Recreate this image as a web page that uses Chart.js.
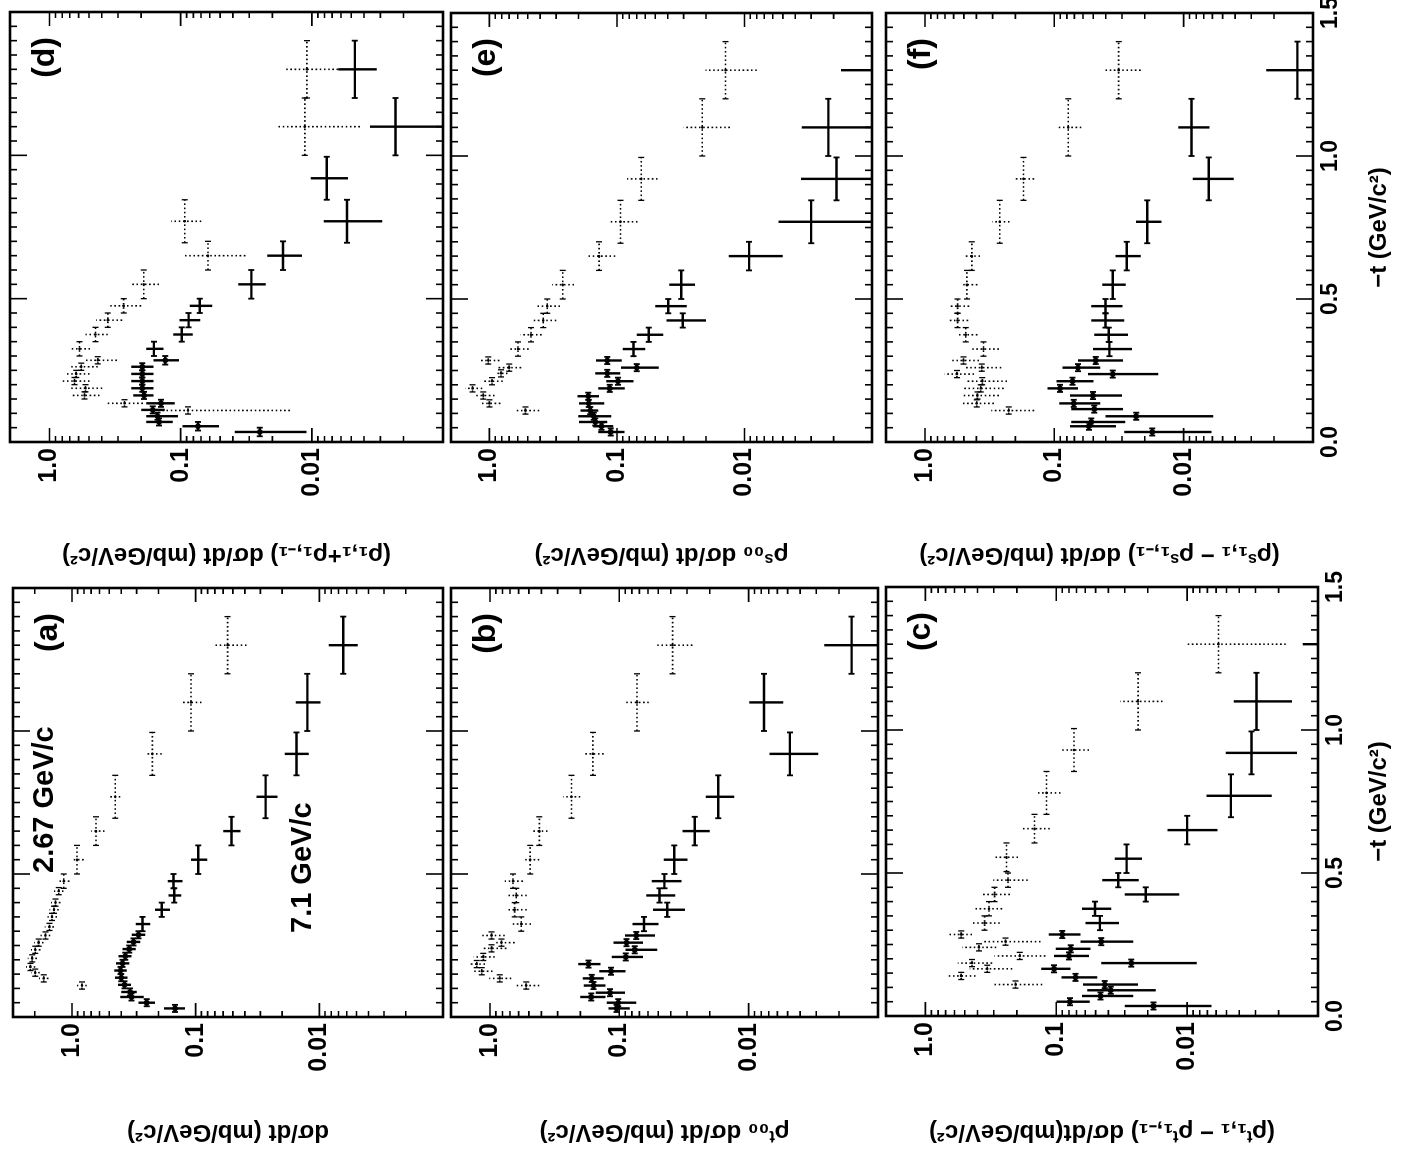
<!DOCTYPE html>
<html>
<head>
<meta charset="utf-8">
<script src="https://cdn.jsdelivr.net/npm/chart.js@4.4.0/dist/chart.umd.min.js"></script>
<style>
  html, body { margin: 0; padding: 0; background: #fff; overflow: hidden; }
  /* the scanned figure is printed sideways: build it upright, then turn the page */
  #page { position: absolute; left: 0; top: 0; width: 1158px; height: 1401px;
          transform-origin: 0 0; transform: translate(0px, 1158px) rotate(-90deg); background: #fff; }
  #page canvas { position: absolute; }
</style>
</head>
<body>
<div id="page"></div>
<script>
// each point: [-t, half bin width, value, lower error, upper error]
// dotted = 2.67 GeV/c, solid = 7.1 GeV/c
const a267 = [[1.30,0.10,0.0552,0.0388,0.0720],[1.10,0.10,0.109,0.0897,0.130],[0.92,0.075,0.224,0.188,0.256],
  [0.77,0.075,0.447,0.407,0.50],[0.65,0.05,0.640,0.545,0.698],[0.55,0.05,0.911,0.805,1.0],[0.475,0.025,1.167,1.05,1.28],
  [0.44,0.0125,1.28,1.17,1.40],[0.40,0.0125,1.36,1.24,1.48],[0.375,0.0125,1.40,1.28,1.52],[0.35,0.0125,1.45,1.32,1.58],
  [0.315,0.0125,1.52,1.40,1.66],[0.285,0.0125,1.64,1.50,1.80],[0.26,0.0125,1.86,1.70,2.02],[0.235,0.0125,1.98,1.80,2.15],
  [0.205,0.0125,2.10,1.92,2.28],[0.175,0.0125,2.17,1.98,2.35],[0.155,0.0125,1.98,1.82,2.15],[0.135,0.0125,1.69,1.55,1.85],
  [0.11,0.0125,0.83,0.76,0.91]];
const a71 = [[1.30,0.10,0.0064,0.0049,0.0084],[1.10,0.10,0.0125,0.0098,0.0155],[0.92,0.075,0.0153,0.0122,0.0190],
  [0.77,0.075,0.0272,0.0218,0.0322],[0.65,0.05,0.0513,0.0434,0.0599],[0.55,0.05,0.0952,0.0805,0.109],
  [0.475,0.025,0.151,0.128,0.168],[0.425,0.025,0.149,0.131,0.166],[0.375,0.025,0.188,0.161,0.213],[0.325,0.025,0.269,0.233,0.305],
  [0.2875,0.0125,0.29,0.256,0.328],[0.2625,0.0125,0.318,0.28,0.36],[0.2375,0.0125,0.345,0.305,0.39],[0.2125,0.0125,0.371,0.33,0.42],
  [0.1875,0.0125,0.39,0.345,0.44],[0.1625,0.0125,0.405,0.36,0.455],[0.1375,0.0125,0.40,0.355,0.45],[0.1125,0.0125,0.376,0.333,0.425],
  [0.0875,0.0125,0.34,0.30,0.40],[0.07,0.0125,0.33,0.263,0.407],[0.05,0.0125,0.249,0.213,0.290],[0.03,0.0125,0.147,0.122,0.180]];

const b267 = [[1.30,0.10,0.0387,0.0272,0.0508],[1.10,0.10,0.0729,0.0591,0.0895],[0.92,0.075,0.160,0.132,0.188],
  [0.77,0.075,0.234,0.200,0.272],[0.65,0.05,0.415,0.359,0.472],[0.55,0.05,0.489,0.415,0.556],[0.475,0.025,0.664,0.556,0.768],
  [0.425,0.025,0.626,0.519,0.746],[0.375,0.025,0.644,0.519,0.725],[0.325,0.025,0.573,0.481,0.683],[0.285,0.0125,0.971,0.768,1.158],
  [0.26,0.0125,0.815,0.644,0.916],[0.24,0.0125,0.971,0.746,1.158],[0.21,0.0125,1.124,0.916,1.34],[0.185,0.0125,1.264,1.092,1.464],
  [0.16,0.0125,1.158,0.954,1.34],[0.135,0.0125,0.839,0.683,1.012],[0.11,0.0125,0.525,0.415,0.644]];
const b71 = [[1.30,0.10,0.0016,0.0008,0.0026],[1.10,0.10,0.0076,0.0054,0.0099],[0.92,0.075,0.0048,0.0029,0.0069],
  [0.77,0.075,0.0172,0.0129,0.0215],[0.65,0.05,0.0261,0.020,0.0325],[0.55,0.05,0.0376,0.0297,0.0453],[0.475,0.025,0.0448,0.033,0.056],
  [0.425,0.025,0.0489,0.0369,0.0619],[0.375,0.025,0.0426,0.0311,0.055],[0.325,0.025,0.0645,0.0498,0.0791],
  [0.285,0.0125,0.0739,0.0529,0.0905],[0.26,0.0125,0.088,0.0656,0.111],[0.235,0.0125,0.0761,0.0508,0.0895],
  [0.21,0.0125,0.089,0.0656,0.1144],[0.185,0.0125,0.173,0.140,0.208],[0.16,0.0125,0.116,0.0895,0.143],
  [0.135,0.0125,0.163,0.132,0.192],[0.11,0.0125,0.158,0.128,0.188],[0.085,0.0125,0.118,0.0905,0.152],
  [0.07,0.0125,0.165,0.128,0.200],[0.05,0.0125,0.102,0.0739,0.125],[0.03,0.0125,0.105,0.083,0.1214]];

const c267 = [[1.30,0.10,0.00576,0.00176,0.010],[1.10,0.10,0.0237,0.0154,0.0326],[0.93,0.075,0.0732,0.0562,0.0938],
  [0.78,0.075,0.1186,0.0928,0.144],[0.655,0.05,0.1465,0.112,0.185],[0.555,0.05,0.240,0.196,0.296],[0.475,0.025,0.234,0.165,0.303],
  [0.425,0.025,0.296,0.226,0.375],[0.375,0.025,0.327,0.259,0.414],[0.325,0.025,0.353,0.270,0.447],[0.285,0.0125,0.533,0.44,0.675],
  [0.26,0.0125,0.244,0.132,0.362],[0.24,0.0125,0.39,0.287,0.524],[0.21,0.0125,0.19,0.121,0.296],[0.185,0.0125,0.44,0.309,0.566],
  [0.165,0.0125,0.337,0.217,0.458],[0.14,0.0125,0.533,0.414,0.663],[0.11,0.0125,0.205,0.128,0.303]];
const c71 = [[1.30,0.10,0.0007,0.0003,0.00131],[1.10,0.10,0.00295,0.00158,0.0044],[0.92,0.075,0.00322,0.00145,0.00506],
  [0.77,0.075,0.00463,0.00226,0.0071],[0.65,0.05,0.010,0.00586,0.0141],[0.55,0.05,0.029,0.0221,0.0358],
  [0.475,0.025,0.0336,0.0234,0.0446],[0.425,0.025,0.0207,0.0115,0.030],[0.375,0.025,0.0506,0.038,0.0635],
  [0.325,0.025,0.0464,0.0332,0.0597],[0.285,0.0125,0.090,0.0653,0.114],[0.26,0.0125,0.0454,0.0258,0.0653],
  [0.235,0.0125,0.0776,0.0548,0.101],[0.21,0.0125,0.080,0.0562,0.104],[0.185,0.0125,0.0267,0.00844,0.0454],
  [0.165,0.0125,0.104,0.078,0.130],[0.135,0.0125,0.0712,0.0487,0.0911],[0.11,0.0125,0.0426,0.0237,0.0624],
  [0.09,0.0125,0.0384,0.0174,0.058],[0.07,0.0125,0.0459,0.0258,0.0635],[0.05,0.0125,0.0787,0.0555,0.0996],
  [0.035,0.0125,0.0181,0.0065,0.030]];

const d267 = [[1.30,0.10,0.0109,0.0063,0.0164],[1.10,0.10,0.0113,0.0043,0.0181],[0.77,0.075,0.093,0.0696,0.118],
  [0.65,0.05,0.0619,0.0321,0.0932],[0.55,0.05,0.191,0.146,0.234],[0.475,0.025,0.272,0.200,0.348],[0.425,0.025,0.359,0.279,0.440],
  [0.375,0.025,0.446,0.359,0.531],[0.325,0.025,0.590,0.490,0.683],[0.285,0.0125,0.428,0.306,0.550],[0.2625,0.0125,0.573,0.428,0.683],
  [0.2375,0.0125,0.626,0.495,0.768],[0.2125,0.0125,0.645,0.495,0.791],[0.1875,0.0125,0.531,0.396,0.683],
  [0.1625,0.0125,0.541,0.415,0.683],[0.135,0.0125,0.268,0.194,0.374],[0.11,0.0125,0.088,0.0147,0.154]];
const d71 = [[1.30,0.10,0.0047,0.0032,0.0063],[1.10,0.10,0.0023,0.0008,0.0036],[0.92,0.075,0.0077,0.0053,0.0102],
  [0.77,0.075,0.0054,0.0029,0.0081],[0.65,0.05,0.0166,0.0119,0.0219],[0.55,0.05,0.0289,0.0225,0.0364],
  [0.475,0.025,0.0716,0.0574,0.0853],[0.425,0.025,0.087,0.071,0.102],[0.375,0.025,0.098,0.081,0.114],
  [0.325,0.025,0.160,0.135,0.183],[0.285,0.015,0.131,0.103,0.161],[0.2625,0.0125,0.196,0.161,0.238],
  [0.2375,0.0125,0.196,0.161,0.238],[0.2125,0.0125,0.196,0.161,0.238],[0.1875,0.0125,0.196,0.161,0.238],
  [0.1625,0.0125,0.19,0.161,0.23],[0.135,0.0125,0.141,0.111,0.183],[0.112,0.0125,0.163,0.132,0.2],
  [0.09,0.0125,0.15,0.105,0.183],[0.07,0.0125,0.146,0.115,0.183],[0.055,0.015,0.0738,0.051,0.097],[0.035,0.015,0.0249,0.011,0.0387]];

const e267 = [[1.30,0.10,0.0141,0.0080,0.0202],[1.10,0.10,0.0214,0.0130,0.030],[0.92,0.075,0.0645,0.048,0.0834],
  [0.77,0.075,0.0938,0.0689,0.116],[0.65,0.05,0.138,0.103,0.175],[0.55,0.05,0.266,0.217,0.321],[0.475,0.025,0.352,0.279,0.425],
  [0.425,0.025,0.378,0.299,0.464],[0.375,0.025,0.472,0.389,0.570],[0.325,0.025,0.597,0.492,0.688],[0.285,0.0125,1.02,0.834,1.206],
  [0.26,0.0125,0.70,0.563,0.849],[0.24,0.0125,0.81,0.72,0.884],[0.2125,0.0125,0.954,0.786,1.137],[0.1875,0.0125,1.356,1.137,1.543],
  [0.1625,0.0125,1.118,0.91,1.294],[0.135,0.0125,1.0,0.82,1.164],[0.11,0.0125,0.522,0.406,0.633]];
const e71 = [[1.30,0.10,0.0007,0.0003,0.00175],[1.10,0.10,0.0022,0.0008,0.00355],[0.92,0.075,0.0019,0.0008,0.0036],
  [0.77,0.075,0.0030,0.0008,0.0054],[0.65,0.05,0.0092,0.0050,0.0133],[0.55,0.05,0.0313,0.0244,0.0389],
  [0.475,0.025,0.0396,0.0283,0.0501],[0.425,0.025,0.0305,0.020,0.0408],[0.375,0.025,0.0563,0.0433,0.070],
  [0.325,0.025,0.0742,0.060,0.090],[0.285,0.0125,0.119,0.0917,0.146],[0.26,0.0125,0.070,0.047,0.0928],
  [0.24,0.0125,0.119,0.094,0.148],[0.2125,0.0125,0.098,0.074,0.121],[0.1875,0.0125,0.114,0.087,0.140],
  [0.16,0.0125,0.168,0.138,0.204],[0.135,0.0125,0.166,0.126,0.198],[0.11,0.0125,0.162,0.14,0.193],
  [0.09,0.0125,0.152,0.111,0.201],[0.07,0.0125,0.148,0.119,0.198],[0.055,0.0125,0.132,0.107,0.153],[0.035,0.0125,0.112,0.0874,0.140]];

const f267 = [[1.30,0.10,0.0318,0.0215,0.0422],[1.10,0.10,0.0781,0.0618,0.0932],[0.92,0.075,0.173,0.143,0.200],
  [0.77,0.075,0.264,0.222,0.302],[0.65,0.05,0.434,0.375,0.491],[0.55,0.05,0.474,0.393,0.527],[0.475,0.025,0.559,0.455,0.647],
  [0.425,0.025,0.559,0.463,0.659],[0.375,0.025,0.483,0.393,0.566],[0.325,0.025,0.353,0.268,0.430],[0.285,0.0125,0.503,0.382,0.636],
  [0.26,0.0125,0.364,0.257,0.491],[0.2375,0.0125,0.566,0.417,0.707],[0.2125,0.0125,0.36,0.232,0.491],[0.1875,0.0125,0.37,0.246,0.497],
  [0.1625,0.0125,0.393,0.268,0.512],[0.135,0.0125,0.398,0.293,0.512],[0.11,0.0125,0.225,0.143,0.307]];
const f71 = [[1.30,0.10,0.00132,0.0008,0.0023],[1.10,0.10,0.0087,0.0063,0.0110],[0.92,0.075,0.0064,0.0041,0.0085],
  [0.77,0.075,0.0191,0.0148,0.0234],[0.65,0.05,0.0275,0.0215,0.0337],[0.55,0.05,0.0353,0.0280,0.0426],
  [0.475,0.025,0.0402,0.0297,0.0518],[0.425,0.025,0.0402,0.0288,0.0518],[0.375,0.025,0.0379,0.0269,0.049],
  [0.325,0.025,0.0375,0.0251,0.0503],[0.285,0.0125,0.0479,0.0294,0.0655],[0.26,0.0125,0.0655,0.0442,0.0863],
  [0.2375,0.0125,0.0353,0.0157,0.055],[0.2125,0.0125,0.0723,0.0497,0.096],[0.1875,0.0125,0.0904,0.0655,0.113],
  [0.1625,0.0125,0.0503,0.030,0.0757],[0.135,0.0125,0.0707,0.0442,0.0916],[0.115,0.0125,0.049,0.0294,0.0740],
  [0.09,0.0125,0.0233,0.0059,0.0402],[0.07,0.0125,0.0518,0.0283,0.074],[0.055,0.0125,0.054,0.0333,0.0757],[0.035,0.0125,0.0175,0.0061,0.0288]];

const tTicks = [0, 0.5, 1.0, 1.5];
const tTickLabels = ['0.0', '0.5', '1.0', '1.5'];
const valueTicks = [1, 0.1, 0.01];
const valueTickLabels = ['1.0', '0.1', '0.01'];

const ink = '#000';
const FONT = "'Liberation Sans', Arial, sans-serif";

// frame with inward ticks on all four sides
const framePlugin = {
  id: 'frame',
  afterDraw(chart) {
    const { ctx, chartArea: ca, scales: { x, y } } = chart;
    ctx.save();
    ctx.strokeStyle = ink;
    ctx.setLineDash([]);
    ctx.lineWidth = 1.6;
    ctx.beginPath();
    for (let i = 0; i <= 30; i++) {
      const px = x.getPixelForValue(i * 0.05);
      const len = i % 10 === 0 ? 17 : 7;
      ctx.moveTo(px, ca.bottom); ctx.lineTo(px, ca.bottom - len);
      ctx.moveTo(px, ca.top); ctx.lineTo(px, ca.top + len);
    }
    [0.001, 0.01, 0.1, 1].forEach(dec => {
      for (let m = 1; m <= 9; m++) {
        const v = dec * m;
        if (v > y.max * 1.0001) break;
        const py = y.getPixelForValue(v);
        const len = m === 1 ? 14 : 6;
        ctx.moveTo(ca.left, py); ctx.lineTo(ca.left + len, py);
        ctx.moveTo(ca.right, py); ctx.lineTo(ca.right - len, py);
      }
    });
    ctx.stroke();
    ctx.lineWidth = 2.6;
    ctx.strokeRect(ca.left, ca.top, ca.right - ca.left, ca.bottom - ca.top);
    ctx.restore();
  }
};

// error crosses: t bin horizontally, value error vertically
const crossPlugin = {
  id: 'crosses',
  afterDatasetsDraw(chart) {
    const { ctx, chartArea: ca, scales: { x, y } } = chart;
    ctx.save();
    ctx.beginPath();
    ctx.rect(ca.left, ca.top, ca.right - ca.left, ca.bottom - ca.top);
    ctx.clip();
    ctx.strokeStyle = ink;
    chart.data.datasets.forEach(ds => {
      ds.bars.forEach(([t, dt, v, lo, hi]) => {
        const px = x.getPixelForValue(t), py = y.getPixelForValue(v);
        const x0 = x.getPixelForValue(t - dt), x1 = x.getPixelForValue(t + dt);
        const y0 = y.getPixelForValue(lo), y1 = y.getPixelForValue(hi);
        ctx.lineWidth = ds.dotted ? 1.6 : 2.4;
        ctx.setLineDash(ds.dotted ? [1.6, 2.6] : []);
        ctx.beginPath();
        ctx.moveTo(x0, py); ctx.lineTo(x1, py);
        ctx.moveTo(px, y0); ctx.lineTo(px, y1);
        ctx.stroke();
        ctx.setLineDash([]);
        ctx.lineWidth = ds.dotted ? 1.3 : 1.8;
        ctx.beginPath();
        ctx.moveTo(x0, py - 3); ctx.lineTo(x0, py + 3);
        ctx.moveTo(x1, py - 3); ctx.lineTo(x1, py + 3);
        ctx.stroke();
      });
    });
    ctx.restore();
  }
};

function textPlugin(items) {
  return {
    id: 'panelText',
    afterDraw(chart) {
      const { ctx, chartArea: ca } = chart;
      ctx.save();
      ctx.fillStyle = ink;
      ctx.textBaseline = 'top';
      items.forEach(it => {
        ctx.font = it.font;
        ctx.textAlign = it.align;
        const px = it.align === 'right' ? ca.right - it.dx : ca.left + it.dx;
        ctx.fillText(it.text, px, ca.top + it.dy);
      });
      ctx.restore();
    }
  };
}

// layout in the upright page (before rotation): box = canvas, area = plot frame
const panels = [
  { key: '(a)', box: [0, 0, 580, 447],   area: [141, 13, 570, 447],  ymax: 3, s267: a267, s71: a71, tAxis: false, gap: 12,
    title: 'dσ/dt (mb/GeV/c²)',
    notes: [{ text: '2.67 GeV/c', dx: 144, dy: 17 }, { text: '7.1 GeV/c', dx: 84, dy: 275 }] },
  { key: '(b)', box: [0, 447, 580, 435], area: [141, 450, 570, 880], ymax: 2, s267: b267, s71: b71, tAxis: false, gap: 12,
    title: 'ρᵗ₀₀ dσ/dt (mb/GeV/c²)' },
  { key: '(c)', box: [0, 882, 605, 519], area: [142, 885, 571, 1318], ymax: 2, s267: c267, s71: c71, tAxis: true, gap: 12,
    title: '(ρᵗ₁,₁ − ρᵗ₁,₋₁) dσ/dt(mb/GeV/c²)' },
  { key: '(d)', box: [580, 0, 578, 447],   area: [716, 10, 1146, 445], ymax: 2, s267: d267, s71: d71, tAxis: false, gap: 9,
    title: '(ρ₁,₁+ρ₁,₋₁) dσ/dt (mb/GeV/c²)' },
  { key: '(e)', box: [580, 447, 578, 435], area: [716, 447, 1145, 877], ymax: 2, s267: e267, s71: e71, tAxis: false, gap: 9,
    title: 'ρˢ₀₀ dσ/dt (mb/GeV/c²)' },
  { key: '(f)', box: [580, 882, 578, 519], area: [716, 882, 1145, 1313], ymax: 2, s267: f267, s71: f71, tAxis: true, gap: 9,
    title: '(ρˢ₁,₁ − ρˢ₁,₋₁) dσ/dt (mb/GeV/c²)' }
];

const page = document.getElementById('page');

function makePanel(p) {
  const [bx, by, bw, bh] = p.box;
  const [l, t, r, b] = p.area;
  const cv = document.createElement('canvas');
  cv.width = bw; cv.height = bh;
  cv.style.left = bx + 'px'; cv.style.top = by + 'px';
  cv.style.width = bw + 'px'; cv.style.height = bh + 'px';
  page.appendChild(cv);

  const yW = l - bx, padR = bx + bw - r, padT = t - by, below = by + bh - b;
  const texts = [{ text: p.key, align: 'right', dx: 25, dy: 19, font: 'bold 32px ' + FONT }];
  (p.notes || []).forEach(n => texts.push({ text: n.text, align: 'left', dx: n.dx, dy: n.dy, font: 'bold 29px ' + FONT }));

  new Chart(cv, {
    type: 'scatter',
    data: {
      datasets: [
        { label: '2.67 GeV/c', data: p.s267.map(q => ({ x: q[0], y: q[2] })), bars: p.s267, dotted: true,
          pointRadius: 1.3, pointBackgroundColor: ink, pointBorderWidth: 0 },
        { label: '7.1 GeV/c', data: p.s71.map(q => ({ x: q[0], y: q[2] })), bars: p.s71, dotted: false,
          pointRadius: c => (c.raw && c.raw.x < 0.3 ? 2.8 : 0), pointBackgroundColor: ink, pointBorderWidth: 0 }
      ]
    },
    options: {
      responsive: false,
      animation: false,
      devicePixelRatio: 1,
      layout: { padding: { left: 0, right: padR, top: padT, bottom: p.tAxis ? 0 : below } },
      plugins: { legend: { display: false }, tooltip: { enabled: false } },
      scales: {
        x: {
          type: 'linear', min: 0, max: 1.5, display: p.tAxis,
          grid: { display: false, drawTicks: false }, border: { display: false },
          afterBuildTicks: s => { s.ticks = tTicks.map(v => ({ value: v })); },
          ticks: { autoSkip: false, maxRotation: 0, padding: 4, color: ink,
                   font: { family: FONT, size: 23, weight: 'bold' },
                   callback: v => tTickLabels[tTicks.indexOf(v)] },
          title: { display: p.tAxis, text: '−t (GeV/c²)', color: ink,
                   font: { family: FONT, size: 24, weight: 'bold' }, padding: { top: 0, bottom: 7 } },
          afterFit: s => { s.height = below; s.paddingLeft = 0; s.paddingRight = 0; }
        },
        y: {
          type: 'logarithmic', min: 0.001, max: p.ymax,
          grid: { display: false, drawTicks: false }, border: { display: false },
          afterBuildTicks: s => { s.ticks = valueTicks.map(v => ({ value: v })); },
          ticks: { autoSkip: false, padding: 6, color: ink,
                   font: { family: FONT, size: 25, weight: 'bold' },
                   callback: v => valueTickLabels[valueTicks.indexOf(v)] },
          title: { display: true, text: p.title, color: ink,
                   font: { family: FONT, size: 24, weight: 'bold' }, padding: { top: p.gap, bottom: 0 } },
          afterFit: s => { s.width = yW; s.paddingTop = 0; s.paddingBottom = 0; }
        }
      }
    },
    plugins: [crossPlugin, framePlugin, textPlugin(texts)]
  });
}

panels.forEach(makePanel);
</script>
</body>
</html>
